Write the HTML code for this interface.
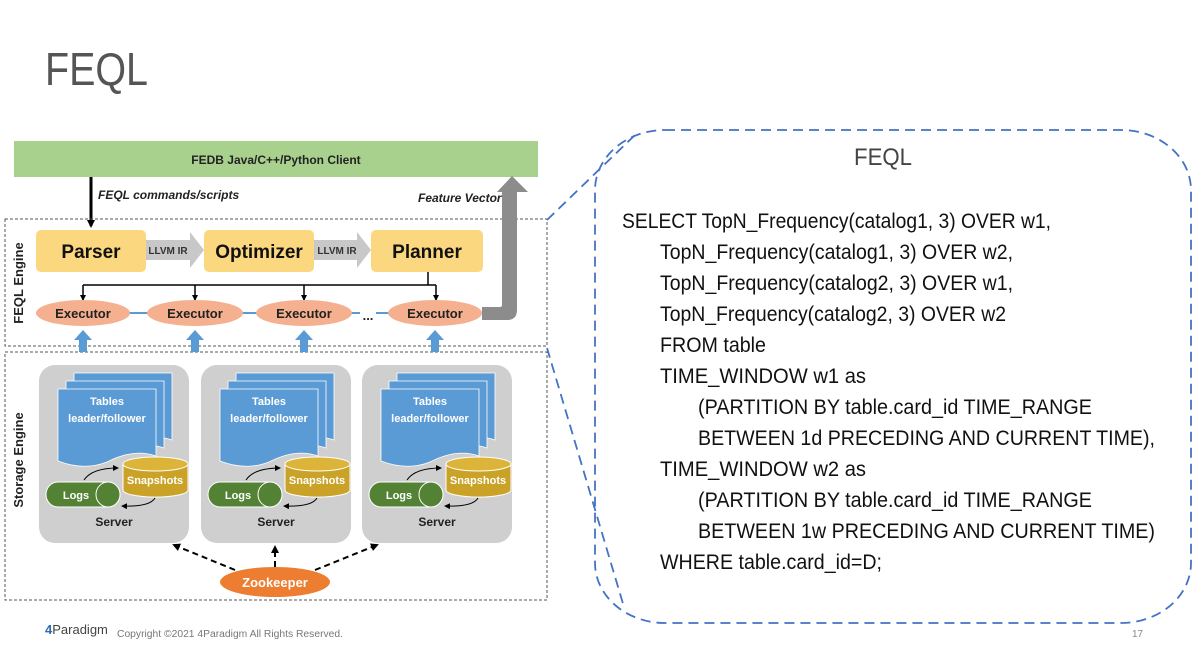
<!DOCTYPE html>
<html><head><meta charset="utf-8"><style>
html,body{margin:0;padding:0;background:#fff;}
svg{display:block;font-family:"Liberation Sans",sans-serif;}
</style></head><body>
<svg width="1196" height="654" viewBox="0 0 1196 654" xmlns="http://www.w3.org/2000/svg">
<defs>
<marker id="ah" markerWidth="8" markerHeight="8" refX="6" refY="4" orient="auto" markerUnits="userSpaceOnUse"><path d="M0,0 L8,4 L0,8 Z" fill="#000"/></marker>
<marker id="ahs" markerWidth="6" markerHeight="6" refX="5" refY="3" orient="auto" markerUnits="userSpaceOnUse"><path d="M0,0 L6,3 L0,6 Z" fill="#000"/></marker>
</defs>
<text x="45" y="85" font-size="46" fill="#555" textLength="103" lengthAdjust="spacingAndGlyphs" style="font-weight:300">FEQL</text>

<rect x="14" y="141" width="524" height="36" fill="#a9d18e"/>
<text x="276" y="164" font-size="12" font-weight="bold" text-anchor="middle" fill="#222">FEDB Java/C++/Python Client</text>
<line x1="91" y1="177" x2="91" y2="226" stroke="#000" stroke-width="3" marker-end="url(#ah)"/>
<text x="98" y="199" font-size="12" font-weight="bold" font-style="italic" fill="#222">FEQL commands/scripts</text>
<text x="418" y="202" font-size="12" font-weight="bold" font-style="italic" fill="#222">Feature Vector</text>

<rect x="5" y="219" width="542" height="127" fill="none" stroke="#555" stroke-dasharray="3,2"/>
<rect x="5" y="352" width="542" height="248" fill="none" stroke="#555" stroke-dasharray="3,2"/>
<text transform="translate(23,283) rotate(-90)" font-size="13" font-weight="bold" text-anchor="middle" fill="#222">FEQL Engine</text>
<text transform="translate(23,460) rotate(-90)" font-size="13" font-weight="bold" text-anchor="middle" fill="#222">Storage Engine</text>

<path d="M482,307 L500,307 Q502,307 502,305 L502,192 L497,192 L512,176 L528,192 L517,192 L517,310 Q517,320 507,320 L482,320 Z" fill="#8c8c8c"/>

<path d="M146,240 L190,240 L190,232 L204,250 L190,268 L190,260 L146,260 Z" fill="#c8c8c8"/>
<path d="M314,240 L357,240 L357,232 L371,250 L357,268 L357,260 L314,260 Z" fill="#c8c8c8"/>
<text x="168" y="254" font-size="10" font-weight="bold" text-anchor="middle" fill="#333">LLVM IR</text>
<text x="337" y="254" font-size="10" font-weight="bold" text-anchor="middle" fill="#333">LLVM IR</text>
<rect x="36" y="230" width="110" height="42" rx="5" fill="#fbd77f"/>
<rect x="204" y="230" width="110" height="42" rx="5" fill="#fbd77f"/>
<rect x="371" y="230" width="112" height="42" rx="5" fill="#fbd77f"/>
<text x="91" y="258" font-size="19" font-weight="bold" text-anchor="middle" fill="#111">Parser</text>
<text x="259" y="258" font-size="19" font-weight="bold" text-anchor="middle" fill="#111">Optimizer</text>
<text x="427" y="258" font-size="19" font-weight="bold" text-anchor="middle" fill="#111">Planner</text>

<line x1="428" y1="272" x2="428" y2="285" stroke="#000" stroke-width="1.5"/>
<line x1="83" y1="285" x2="436" y2="285" stroke="#000" stroke-width="1.5"/>
<line x1="83" y1="285" x2="83" y2="300" stroke="#000" stroke-width="1.5" marker-end="url(#ahs)"/>
<line x1="195" y1="285" x2="195" y2="300" stroke="#000" stroke-width="1.5" marker-end="url(#ahs)"/>
<line x1="304" y1="285" x2="304" y2="300" stroke="#000" stroke-width="1.5" marker-end="url(#ahs)"/>
<line x1="436" y1="285" x2="436" y2="300" stroke="#000" stroke-width="1.5" marker-end="url(#ahs)"/>
<line x1="120" y1="313" x2="360" y2="313" stroke="#5b9bd5" stroke-width="2"/>
<line x1="376" y1="313" x2="400" y2="313" stroke="#5b9bd5" stroke-width="2"/>
<g fill="#f4b08f">
<ellipse cx="83" cy="313" rx="47" ry="13"/>
<ellipse cx="195" cy="313" rx="48" ry="13"/>
<ellipse cx="304" cy="313" rx="48" ry="13"/>
<ellipse cx="435" cy="313" rx="47" ry="13"/>
</g>
<g font-size="13" font-weight="bold" text-anchor="middle" fill="#222">
<text x="83" y="318">Executor</text><text x="195" y="318">Executor</text><text x="304" y="318">Executor</text><text x="435" y="318">Executor</text>
<text x="368" y="320">...</text>
</g>
<g fill="#5b9bd5">
<path d="M79,352 L79,340 L74,340 L83,330 L92,340 L87,340 L87,352 Z"/>
<path d="M191,352 L191,340 L186,340 L195,330 L204,340 L199,340 L199,352 Z"/>
<path d="M300,352 L300,340 L295,340 L304,330 L313,340 L308,340 L308,352 Z"/>
<path d="M431,352 L431,340 L426,340 L435,330 L444,340 L439,340 L439,352 Z"/>
</g>

<g id="srv">
<rect x="39" y="365" width="150" height="178" rx="16" fill="#cfcfcf"/>
<path d="M74,373 L172,373 L172,440 Q150,432 123,446 Q100,455 74,445 Z" fill="#5b9bd5" stroke="#fff" stroke-width="0.8"/>
<path d="M66,381 L164,381 L164,448 Q142,440 115,454 Q92,463 66,453 Z" fill="#5b9bd5" stroke="#fff" stroke-width="0.8"/>
<path d="M58,389 L156,389 L156,456 Q134,448 107,462 Q84,471 58,461 Z" fill="#5b9bd5" stroke="#fff" stroke-width="0.8"/>
<text x="107" y="405" font-size="11" font-weight="bold" text-anchor="middle" fill="#fff">Tables</text>
<text x="107" y="422" font-size="11" font-weight="bold" text-anchor="middle" fill="#fff">leader/follower</text>
<path d="M123,464 L123,490 A32,7 0 0 0 188,490 L188,464 Z" fill="#c9a227" stroke="#fff" stroke-width="1"/>
<ellipse cx="155.5" cy="464" rx="32.5" ry="7" fill="#dcb43a" stroke="#fff" stroke-width="1"/>
<text x="155" y="484" font-size="11" font-weight="bold" text-anchor="middle" fill="#fff">Snapshots</text>
<path d="M58,482 L108,482 A12,12.5 0 0 1 108,507 L58,507 A12,12.5 0 0 1 58,482 Z" fill="#548235" stroke="#fff" stroke-width="1"/>
<ellipse cx="108" cy="494.5" rx="12" ry="12.5" fill="#548235" stroke="#fff" stroke-width="1"/>
<text x="76" y="499" font-size="11" font-weight="bold" text-anchor="middle" fill="#fff">Logs</text>
<path d="M84,480 Q92,468 118,468" fill="none" stroke="#000" stroke-width="1" marker-end="url(#ahs)"/>
<path d="M155,498 Q150,507 122,506" fill="none" stroke="#000" stroke-width="1" marker-end="url(#ahs)"/>
<text x="114" y="526" font-size="12" font-weight="bold" text-anchor="middle" fill="#222">Server</text>
</g>
<use href="#srv" transform="translate(162,0)"/>
<use href="#srv" transform="translate(323,0)"/>

<g stroke="#000" stroke-width="2" stroke-dasharray="6,4" fill="none">
<line x1="235" y1="570" x2="174" y2="545" marker-end="url(#ah)"/>
<line x1="275" y1="567" x2="275" y2="547" marker-end="url(#ah)"/>
<line x1="315" y1="570" x2="377" y2="545" marker-end="url(#ah)"/>
</g>
<ellipse cx="275" cy="582" rx="55" ry="15" fill="#ed7d31"/>
<text x="275" y="587" font-size="13" font-weight="bold" text-anchor="middle" fill="#fff">Zookeeper</text>

<text x="45" y="634" font-size="13" fill="#2b6cb0" font-weight="bold">4<tspan font-weight="normal" fill="#444">Paradigm</tspan></text>
<text x="117" y="637" font-size="10" fill="#777" textLength="226" lengthAdjust="spacingAndGlyphs">Copyright ©2021 4Paradigm All Rights Reserved.</text>
<text x="1132" y="637" font-size="10" fill="#888">17</text>

<g stroke="#4472c4" stroke-width="1.8" stroke-dasharray="10,6" fill="none">
<rect x="595" y="130" width="596" height="493" rx="70" ry="60"/>
<line x1="547" y1="220" x2="636" y2="134"/>
<line x1="547" y1="348" x2="624" y2="607"/>
</g>
<text x="883" y="165" font-size="24" text-anchor="middle" fill="#444" textLength="58" lengthAdjust="spacingAndGlyphs">FEQL</text>
<g font-size="21" fill="#111">
<text x="622" y="228" textLength="429" lengthAdjust="spacingAndGlyphs">SELECT TopN_Frequency(catalog1, 3) OVER w1,</text>
<text x="660" y="259" textLength="353" lengthAdjust="spacingAndGlyphs">TopN_Frequency(catalog1, 3) OVER w2,</text>
<text x="660" y="290" textLength="353" lengthAdjust="spacingAndGlyphs">TopN_Frequency(catalog2, 3) OVER w1,</text>
<text x="660" y="321" textLength="346" lengthAdjust="spacingAndGlyphs">TopN_Frequency(catalog2, 3) OVER w2</text>
<text x="660" y="352" textLength="106" lengthAdjust="spacingAndGlyphs">FROM table</text>
<text x="660" y="383" textLength="206" lengthAdjust="spacingAndGlyphs">TIME_WINDOW w1 as</text>
<text x="698" y="414" textLength="394" lengthAdjust="spacingAndGlyphs">(PARTITION BY table.card_id TIME_RANGE</text>
<text x="698" y="445" textLength="457" lengthAdjust="spacingAndGlyphs">BETWEEN 1d PRECEDING AND CURRENT TIME),</text>
<text x="660" y="476" textLength="206" lengthAdjust="spacingAndGlyphs">TIME_WINDOW w2 as</text>
<text x="698" y="507" textLength="394" lengthAdjust="spacingAndGlyphs">(PARTITION BY table.card_id TIME_RANGE</text>
<text x="698" y="538" textLength="457" lengthAdjust="spacingAndGlyphs">BETWEEN 1w PRECEDING AND CURRENT TIME)</text>
<text x="660" y="569" textLength="222" lengthAdjust="spacingAndGlyphs">WHERE table.card_id=D;</text>
</g>
</svg>
</body></html>
